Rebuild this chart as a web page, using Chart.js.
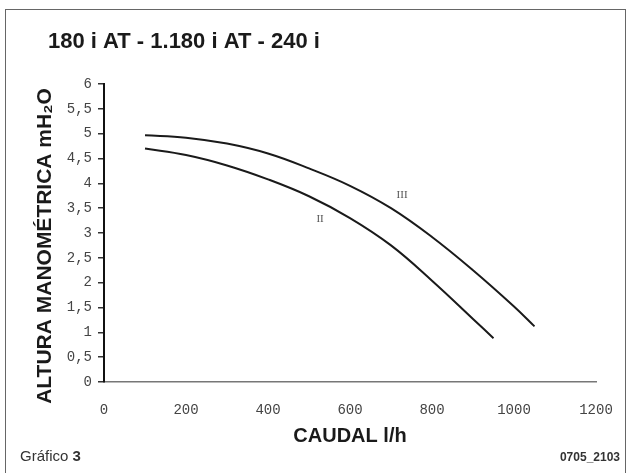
<!DOCTYPE html>
<html>
<head>
<meta charset="utf-8">
<script src="https://cdn.jsdelivr.net/npm/chart.js@4"></script>
<style>
  body { margin: 0; background: #fff; }
  #wrap { position: relative; width: 631px; height: 473px; }
  #frame { position: absolute; left: 5px; top: 9px; width: 619px; height: 470px;
           border: 1.5px solid #666; pointer-events: none; }
</style>
</head>
<body>
<div id="wrap">
  <canvas id="curva" width="631" height="473"></canvas>
  <div id="frame"></div>
</div>
<script>
// curva III (superior)
const caudal_III = [100, 200, 300, 400, 500, 600, 700, 800, 900, 1000, 1050];
const altura_III = [4.97, 4.92, 4.8, 4.6, 4.3, 3.95, 3.5, 2.92, 2.25, 1.52, 1.12];
// curva II (inferior)
const caudal_II = [100, 200, 300, 400, 500, 600, 700, 800, 900, 950];
const altura_II = [4.7, 4.57, 4.36, 4.08, 3.74, 3.3, 2.75, 2.04, 1.27, 0.88];
// etiquetas de curva [caudal, altura, texto]
const etiquetas = [[727, 3.77, "III"], [527, 3.27, "II"]];

const titulo = "180 i AT - 1.180 i AT - 240 i";

function pts(xs, ys) {
  return xs.map((x, i) => ({ x: x, y: ys[i] }));
}

const textos = {
  id: "textos",
  afterDraw(chart) {
    const ctx = chart.ctx;
    const xs = chart.scales.x, ys = chart.scales.y;
    ctx.save();
    ctx.fillStyle = "#1a1a1a";
    ctx.textBaseline = "alphabetic";
    ctx.font = "bold 22px 'Liberation Sans', Arial, sans-serif";
    ctx.fillText(titulo, 48, 48);

    // titulo eje y
    ctx.save();
    ctx.translate(51, 246);
    ctx.rotate(-Math.PI / 2);
    ctx.textAlign = "center";
    ctx.font = "bold 21px 'Liberation Sans', Arial, sans-serif";
    ctx.fillText("ALTURA MANOMÉTRICA mH₂O", 0, 0);
    ctx.restore();

    // pie
    ctx.font = "15px 'Liberation Sans', Arial, sans-serif";
    ctx.fillStyle = "#333";
    ctx.fillText("Gráfico ", 20, 461);
    const w = ctx.measureText("Gráfico ").width;
    ctx.font = "bold 15px 'Liberation Sans', Arial, sans-serif";
    ctx.fillText("3", 20 + w, 461);
    ctx.font = "bold 12px 'Liberation Sans', Arial, sans-serif";
    ctx.textAlign = "right";
    ctx.fillText("0705_2103", 620, 461);

    // etiquetas de curvas
    ctx.textAlign = "center";
    ctx.textBaseline = "middle";
    ctx.font = "11px 'Liberation Serif', serif";
    ctx.fillStyle = "#555";
    etiquetas.forEach(([q, h, t]) => {
      ctx.fillText(t, xs.getPixelForValue(q), ys.getPixelForValue(h));
    });
    ctx.restore();
  },
};

const tickFont = { family: "'Liberation Mono', monospace", size: 14 };

new Chart(document.getElementById("curva"), {
  type: "line",
  data: {
    datasets: [
      {
        label: "III",
        data: pts(caudal_III, altura_III),
        borderColor: "#1a1a1a",
        borderWidth: 2,
        pointRadius: 0,
        tension: 0.4,
      },
      {
        label: "II",
        data: pts(caudal_II, altura_II),
        borderColor: "#1a1a1a",
        borderWidth: 2,
        pointRadius: 0,
        tension: 0.4,
      },
    ],
  },
  options: {
    responsive: false,
    animation: false,
    layout: { padding: { top: 84, right: 35, left: 0, bottom: 0 } },
    plugins: { legend: { display: false }, title: { display: false }, tooltip: { enabled: false } },
    scales: {
      x: {
        type: "linear",
        min: 0,
        max: 1200,
        ticks: { stepSize: 200, padding: 12, color: "#444", font: tickFont, callback: (v) => String(v) },
        grid: { display: false },
        border: { color: "#777", width: 1.5, dash: [8, 5] },
        title: {
          display: true,
          text: "CAUDAL l/h",
          color: "#1a1a1a",
          font: { family: "'Liberation Sans', Arial, sans-serif", size: 20, weight: "bold" },
          padding: { top: 0, bottom: 25 },
        },
        afterFit: (s) => { s.height = 91; },
      },
      y: {
        min: 0,
        max: 6,
        ticks: {
          stepSize: 0.5,
          padding: 6,
          color: "#444",
          font: tickFont,
          callback: (v) => String(v).replace(".", ","),
        },
        grid: { drawOnChartArea: false, drawTicks: true, tickLength: 6, color: "#333", lineWidth: 1.5 },
        border: { color: "#111", width: 2 },
        afterFit: (s) => { s.width = 104; },
      },
    },
  },
  plugins: [textos],
});
</script>
</body>
</html>
